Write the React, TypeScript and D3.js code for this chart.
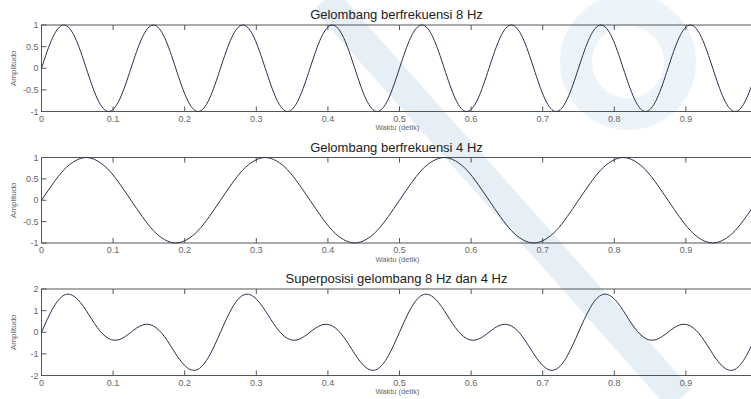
import React, { useRef, useEffect } from 'react';
import * as d3 from 'd3';

const wave8Hz = [
  0, 0.71, 1, 0.71, 0, -0.71, -1, -0.71, 0, 0.71, 1, 0.71, 0, -0.71, -1, -0.71,
  0, 0.71, 1, 0.71, 0, -0.71, -1, -0.71, 0, 0.71, 1, 0.71, 0, -0.71, -1, -0.71,
  0, 0.71, 1, 0.71, 0, -0.71, -1, -0.71, 0, 0.71, 1, 0.71, 0, -0.71, -1, -0.71,
  0, 0.71, 1, 0.71, 0, -0.71, -1, -0.71, 0, 0.71, 1, 0.71, 0, -0.71, -1, -0.71,
  0,
];
const wave4Hz = [
  0, 0.38, 0.71, 0.92, 1, 0.92, 0.71, 0.38, 0, -0.38, -0.71, -0.92, -1, -0.92, -0.71, -0.38,
  0, 0.38, 0.71, 0.92, 1, 0.92, 0.71, 0.38, 0, -0.38, -0.71, -0.92, -1, -0.92, -0.71, -0.38,
  0, 0.38, 0.71, 0.92, 1, 0.92, 0.71, 0.38, 0, -0.38, -0.71, -0.92, -1, -0.92, -0.71, -0.38,
  0, 0.38, 0.71, 0.92, 1, 0.92, 0.71, 0.38, 0, -0.38, -0.71, -0.92, -1, -0.92, -0.71, -0.38,
  0,
];
const superposition = [
  0, 1.09, 1.71, 1.63, 1, 0.21, -0.29, -0.33, 0, 0.33, 0.29, -0.21, -1, -1.63, -1.71, -1.09,
  0, 1.09, 1.71, 1.63, 1, 0.21, -0.29, -0.33, 0, 0.33, 0.29, -0.21, -1, -1.63, -1.71, -1.09,
  0, 1.09, 1.71, 1.63, 1, 0.21, -0.29, -0.33, 0, 0.33, 0.29, -0.21, -1, -1.63, -1.71, -1.09,
  0, 1.09, 1.71, 1.63, 1, 0.21, -0.29, -0.33, 0, 0.33, 0.29, -0.21, -1, -1.63, -1.71, -1.09,
  0,
];

const titles = ['Gelombang berfrekuensi 8 Hz', 'Gelombang berfrekuensi 4 Hz', 'Superposisi gelombang 8 Hz dan 4 Hz'];
const xTicks = [0, 0.1, 0.2, 0.3, 0.4, 0.5, 0.6, 0.7, 0.8, 0.9, 1];
const yTicksUnit = [-1, -0.5, 0, 0.5, 1];
const yTicksSum = [-2, -1, 0, 1, 2];

const App = () => {
  const svgRef = useRef(null);

  useEffect(() => {
    const svg = d3.select(svgRef.current);
    svg.selectAll('*').remove();

    const font = 'Liberation Sans, Arial, sans-serif';
    const times = d3.range(wave8Hz.length).map((i) => i / (wave8Hz.length - 1));

    // faint watermark behind everything
    const wm = svg.append('g');
    wm.append('line')
      .attr('x1', 325).attr('y1', 0).attr('x2', 680).attr('y2', 399)
      .attr('stroke', '#c9dcec').attr('stroke-width', 30).attr('opacity', 0.45);
    wm.append('circle')
      .attr('cx', 628).attr('cy', 62).attr('r', 52)
      .attr('fill', 'none').attr('stroke', '#d3e3f0').attr('stroke-width', 32).attr('opacity', 0.4);

    const panels = [
      { values: wave8Hz, ticks: yTicksUnit, domain: [-1, 1], top: 25, bottom: 111.5 },
      { values: wave4Hz, ticks: yTicksUnit, domain: [-1, 1], top: 157.5, bottom: 243 },
      { values: superposition, ticks: yTicksSum, domain: [-2, 2], top: 289, bottom: 375.5 },
    ];

    const x = d3.scaleLinear().domain([0, 1]).range([41.5, 757.5]);
    const tickLen = 5;
    const axisColor = '#555';
    const labelColor = '#666';

    panels.forEach((p, idx) => {
      const y = d3.scaleLinear().domain(p.domain).range([p.bottom, p.top]);
      const g = svg.append('g');

      // plot box
      g.append('rect')
        .attr('x', x(0)).attr('y', p.top)
        .attr('width', x(1) - x(0)).attr('height', p.bottom - p.top)
        .attr('fill', 'none').attr('stroke', axisColor).attr('stroke-width', 1);

      // inward ticks, MATLAB style
      xTicks.forEach((t) => {
        g.append('line').attr('x1', x(t)).attr('x2', x(t))
          .attr('y1', p.bottom).attr('y2', p.bottom - tickLen).attr('stroke', axisColor);
        g.append('line').attr('x1', x(t)).attr('x2', x(t))
          .attr('y1', p.top).attr('y2', p.top + tickLen).attr('stroke', axisColor);
        if (t < 1) {
          g.append('text')
            .attr('x', x(t)).attr('y', p.bottom + 10)
            .attr('text-anchor', 'middle')
            .style('font-family', font).style('font-size', '9px').style('fill', labelColor)
            .text(String(t));
        }
      });
      p.ticks.forEach((v) => {
        g.append('line').attr('x1', x(0)).attr('x2', x(0) + tickLen)
          .attr('y1', y(v)).attr('y2', y(v)).attr('stroke', axisColor);
        g.append('line').attr('x1', x(1)).attr('x2', x(1) - tickLen)
          .attr('y1', y(v)).attr('y2', y(v)).attr('stroke', axisColor);
        g.append('text')
          .attr('x', x(0) - 3).attr('y', y(v) + 3)
          .attr('text-anchor', 'end')
          .style('font-family', font).style('font-size', '9px').style('fill', labelColor)
          .text(String(v));
      });

      const line = d3.line<number>()
        .x((d, i) => x(times[i]))
        .y((d) => y(d))
        .curve(d3.curveNatural);

      g.append('path')
        .datum(p.values)
        .attr('d', line)
        .attr('fill', 'none')
        .attr('stroke', '#2e2e50')
        .attr('stroke-width', 1);

      // labels
      g.append('text')
        .attr('x', (x(0) + x(1)) / 2 - 3).attr('y', p.top - 6)
        .attr('text-anchor', 'middle')
        .style('font-family', font).style('font-size', '13px').style('fill', '#222')
        .text(titles[idx]);
      g.append('text')
        .attr('x', (x(0) + x(1)) / 2 - 2).attr('y', p.bottom + 18.5)
        .attr('text-anchor', 'middle')
        .style('font-family', font).style('font-size', '7.5px').style('fill', labelColor)
        .text('Waktu (detik)');
      g.append('text')
        .attr('transform', `translate(16,${(p.top + p.bottom) / 2}) rotate(-90)`)
        .attr('text-anchor', 'middle')
        .style('font-family', font).style('font-size', '8px').style('fill', labelColor)
        .text('Amplitudo');
    });
  }, []);

  return (
    <svg
      ref={svgRef}
      width={751}
      height={399}
      style={{ position: 'absolute', left: 0, top: 0, background: '#fff', display: 'block' }}
    />
  );
};

export default App;
